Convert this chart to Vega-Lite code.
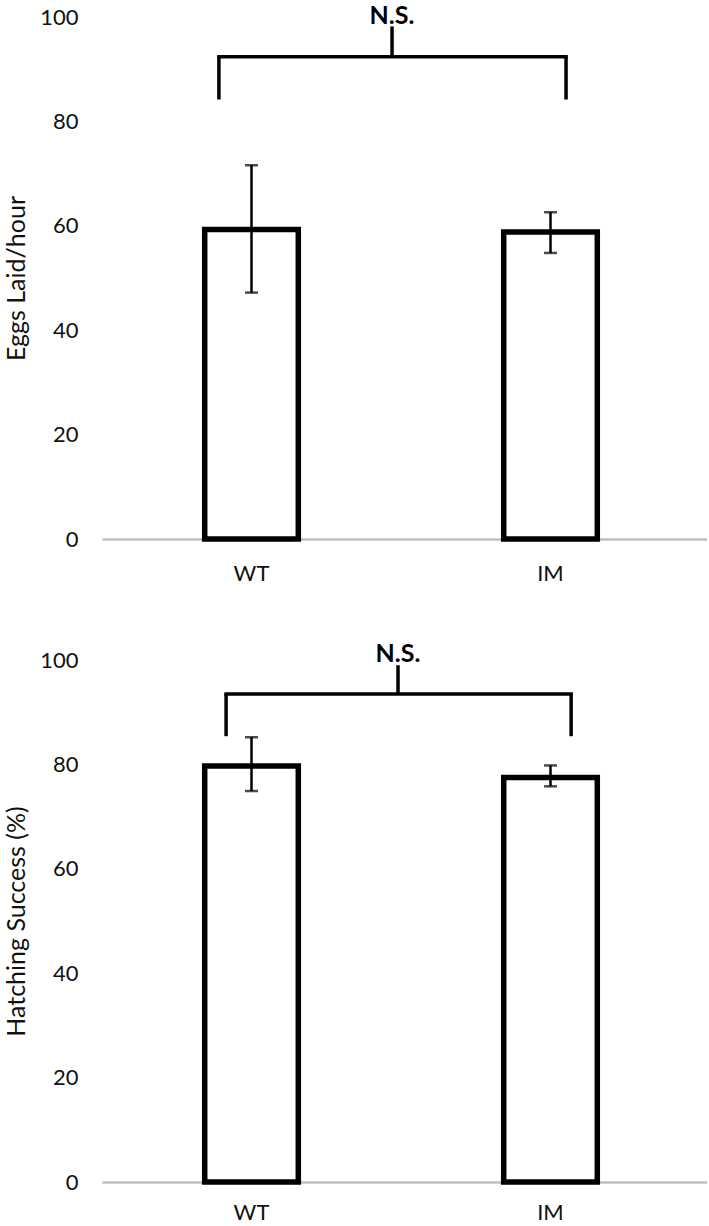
{
  "$schema": "https://vega.github.io/schema/vega-lite/v6.json",
  "background": "white",
  "padding": {"left": 4, "top": 4, "right": 0, "bottom": 0},
  "config": {
    "view": {"stroke": null},
    "font": "Lato",
    "concat": {"spacing": 58},
    "axis": {"labelFont": "Lato", "titleFont": "Lato", "labelColor": "#111", "titleColor": "#111", "grid": false, "ticks": false}
  },
  "datasets": {
    "eggs": [
      {"group": "WT", "mean": 59.3, "lo": 47.2, "hi": 71.6},
      {"group": "IM", "mean": 58.8, "lo": 54.8, "hi": 62.6}
    ],
    "hatch": [
      {"group": "WT", "mean": 79.7, "lo": 74.9, "hi": 85.2},
      {"group": "IM", "mean": 77.5, "lo": 75.8, "hi": 79.8}
    ],
    "sigEggs": [
      {"from": "WT", "to": "IM", "bar": 92.4, "leg": 84.2, "top": 98.2, "textY": 98.6, "label": "N.S."}
    ],
    "sigHatch": [
      {"from": "WT", "to": "IM", "bar": 93.5, "leg": 85.4, "top": 99.0, "textY": 99.6, "label": "N.S."}
    ]
  },
  "vconcat": [
    {
      "width": 605,
      "height": 522,
      "encoding": {
        "x": {"field": "group", "type": "nominal", "sort": ["WT", "IM"],
          "scale": {"domain": ["WT", "IM"], "paddingInner": 0, "paddingOuter": 0.0117, "align": 0},
          "axis": {"title": null, "labelAngle": 0, "labelFontSize": 22, "labelPadding": 24, "domainColor": "#bfbfbf", "domainWidth": 2.5}}
      },
      "layer": [
        {
          "data": {"name": "eggs"},
          "mark": {"type": "bar", "fill": "white", "stroke": "black", "strokeWidth": 5.5, "width": {"band": 0.313}},
          "encoding": {
            "y": {"field": "mean", "type": "quantitative",
              "scale": {"domain": [0, 100], "nice": false},
              "axis": {"title": "Eggs Laid/hour", "values": [0, 20, 40, 60, 80, 100], "domain": false, "labelFontSize": 22, "labelPadding": 24, "titleFontSize": 25, "titleFontWeight": "normal", "titlePadding": 10}}
          }
        },
        {
          "data": {"name": "eggs"},
          "mark": {"type": "rule", "stroke": "black", "strokeWidth": 2.5},
          "encoding": {"y": {"field": "lo", "type": "quantitative"}, "y2": {"field": "hi"}}
        },
        {
          "data": {"name": "eggs"},
          "mark": {"type": "tick", "color": "black", "size": 13, "thickness": 2.5, "orient": "horizontal"},
          "encoding": {"y": {"field": "lo", "type": "quantitative"}}
        },
        {
          "data": {"name": "eggs"},
          "mark": {"type": "tick", "color": "black", "size": 13, "thickness": 2.5, "orient": "horizontal"},
          "encoding": {"y": {"field": "hi", "type": "quantitative"}}
        },
        {
          "data": {"name": "sigEggs"},
          "mark": {"type": "rule", "stroke": "black", "strokeWidth": 3.5, "strokeCap": "square"},
          "encoding": {
            "x": {"field": "from", "type": "nominal", "bandPosition": 0.391},
            "x2": {"field": "to", "bandPosition": 0.552},
            "y": {"field": "bar", "type": "quantitative"}
          }
        },
        {
          "data": {"name": "sigEggs"},
          "mark": {"type": "rule", "stroke": "black", "strokeWidth": 3.5},
          "encoding": {
            "x": {"field": "from", "type": "nominal", "bandPosition": 0.391},
            "y": {"field": "leg", "type": "quantitative"},
            "y2": {"field": "bar"}
          }
        },
        {
          "data": {"name": "sigEggs"},
          "mark": {"type": "rule", "stroke": "black", "strokeWidth": 3.5},
          "encoding": {
            "x": {"field": "to", "type": "nominal", "bandPosition": 0.552},
            "y": {"field": "leg", "type": "quantitative"},
            "y2": {"field": "bar"}
          }
        },
        {
          "data": {"name": "sigEggs"},
          "mark": {"type": "rule", "stroke": "black", "strokeWidth": 3.5},
          "encoding": {
            "x": {"field": "from", "type": "nominal", "bandPosition": 0.97},
            "y": {"field": "bar", "type": "quantitative"},
            "y2": {"field": "top"}
          }
        },
        {
          "data": {"name": "sigEggs"},
          "mark": {"type": "text", "font": "Lato", "fontSize": 25, "fontWeight": "bold", "color": "black", "baseline": "alphabetic", "align": "center"},
          "encoding": {
            "x": {"field": "from", "type": "nominal", "bandPosition": 0.97},
            "y": {"field": "textY", "type": "quantitative"},
            "text": {"field": "label"}
          }
        }
      ]
    },
    {
      "width": 605,
      "height": 522,
      "encoding": {
        "x": {"field": "group", "type": "nominal", "sort": ["WT", "IM"],
          "scale": {"domain": ["WT", "IM"], "paddingInner": 0, "paddingOuter": 0.0117, "align": 0},
          "axis": {"title": null, "labelAngle": 0, "labelFontSize": 22, "labelPadding": 20, "domainColor": "#bfbfbf", "domainWidth": 2.5}}
      },
      "layer": [
        {
          "data": {"name": "hatch"},
          "mark": {"type": "bar", "fill": "white", "stroke": "black", "strokeWidth": 5.5, "width": {"band": 0.313}},
          "encoding": {
            "y": {"field": "mean", "type": "quantitative",
              "scale": {"domain": [0, 100], "nice": false},
              "axis": {"title": "Hatching Success (%)", "values": [0, 20, 40, 60, 80, 100], "domain": false, "labelFontSize": 22, "labelPadding": 24, "titleFontSize": 25, "titleFontWeight": "normal", "titlePadding": 10}}
          }
        },
        {
          "data": {"name": "hatch"},
          "mark": {"type": "rule", "stroke": "black", "strokeWidth": 2.5},
          "encoding": {"y": {"field": "lo", "type": "quantitative"}, "y2": {"field": "hi"}}
        },
        {
          "data": {"name": "hatch"},
          "mark": {"type": "tick", "color": "black", "size": 13, "thickness": 2.5, "orient": "horizontal"},
          "encoding": {"y": {"field": "lo", "type": "quantitative"}}
        },
        {
          "data": {"name": "hatch"},
          "mark": {"type": "tick", "color": "black", "size": 13, "thickness": 2.5, "orient": "horizontal"},
          "encoding": {"y": {"field": "hi", "type": "quantitative"}}
        },
        {
          "data": {"name": "sigHatch"},
          "mark": {"type": "rule", "stroke": "black", "strokeWidth": 3.5, "strokeCap": "square"},
          "encoding": {
            "x": {"field": "from", "type": "nominal", "bandPosition": 0.415},
            "x2": {"field": "to", "bandPosition": 0.569},
            "y": {"field": "bar", "type": "quantitative"}
          }
        },
        {
          "data": {"name": "sigHatch"},
          "mark": {"type": "rule", "stroke": "black", "strokeWidth": 3.5},
          "encoding": {
            "x": {"field": "from", "type": "nominal", "bandPosition": 0.415},
            "y": {"field": "leg", "type": "quantitative"},
            "y2": {"field": "bar"}
          }
        },
        {
          "data": {"name": "sigHatch"},
          "mark": {"type": "rule", "stroke": "black", "strokeWidth": 3.5},
          "encoding": {
            "x": {"field": "to", "type": "nominal", "bandPosition": 0.569},
            "y": {"field": "leg", "type": "quantitative"},
            "y2": {"field": "bar"}
          }
        },
        {
          "data": {"name": "sigHatch"},
          "mark": {"type": "rule", "stroke": "black", "strokeWidth": 3.5},
          "encoding": {
            "x": {"field": "from", "type": "nominal", "bandPosition": 0.99},
            "y": {"field": "bar", "type": "quantitative"},
            "y2": {"field": "top"}
          }
        },
        {
          "data": {"name": "sigHatch"},
          "mark": {"type": "text", "font": "Lato", "fontSize": 25, "fontWeight": "bold", "color": "black", "baseline": "alphabetic", "align": "center"},
          "encoding": {
            "x": {"field": "from", "type": "nominal", "bandPosition": 0.99},
            "y": {"field": "textY", "type": "quantitative"},
            "text": {"field": "label"}
          }
        }
      ]
    }
  ]
}
